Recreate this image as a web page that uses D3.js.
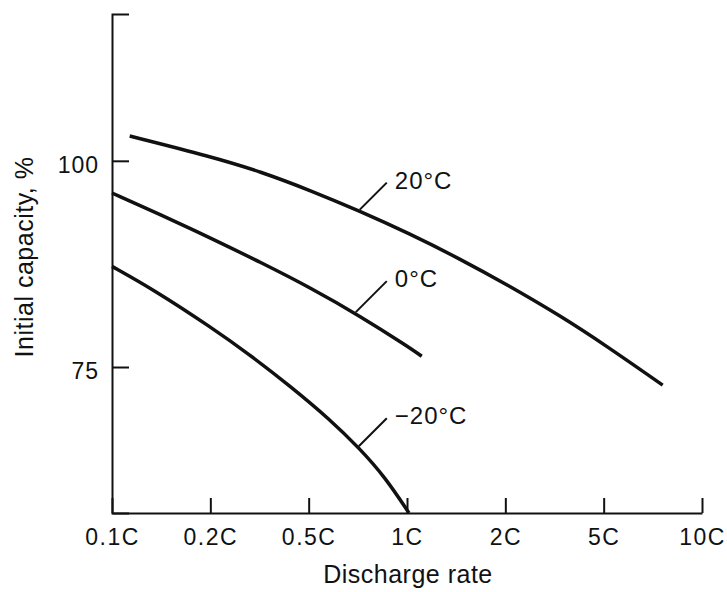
<!DOCTYPE html>
<html>
<head>
<meta charset="utf-8">
<script src="https://cdn.jsdelivr.net/npm/d3@7"></script>
<style>
  body { margin: 0; background: #fff; }
  svg text { font-family: "Liberation Sans", Arial, Helvetica, sans-serif; fill: #111; }
</style>
</head>
<body>
<div id="chart"></div>
<script>
// Capacity vs discharge rate at three temperatures.
// Rate axis is evenly spaced by category: 0 = 0.1C, 1 = 0.2C ... 6 = 10C.
const rateLabels = ["0.1C", "0.2C", "0.5C", "1C", "2C", "5C", "10C"];
const capTicks = [75, 100];
const temps = ["20°C", "0°C", "−20°C"];

const rate20 = [0.18, 1.01, 1.51, 2.02, 2.52, 3.02, 3.54, 4.03, 4.56, 5.01, 5.60];
const cap20  = [103.0, 100.5, 98.7, 96.4, 93.9, 91.2, 88.1, 84.9, 81.2, 77.7, 72.8];

const rate0 = [0, 0.49, 1.01, 1.51, 2.02, 2.52, 3.02, 3.15];
const cap0  = [96.1, 93.5, 90.6, 87.7, 84.6, 81.2, 77.4, 76.3];

const rateM20 = [0, 0.42, 1.01, 1.40, 1.81, 2.22, 2.52, 2.78, 3.02];
const capM20  = [87.2, 84.4, 79.8, 76.5, 72.7, 68.6, 65.1, 61.6, 57.3];

const W = 727, H = 592;
const margin = { top: 14, right: 25, bottom: 79, left: 112 };
const labelAt = 2.52; // where the label leaders touch the curves

const svg = d3.select("#chart").append("svg")
  .attr("width", W).attr("height", H)
  .attr("viewBox", `0 0 ${W} ${H}`);

const x = d3.scaleLinear().domain([0, 6]).range([margin.left, 702]);
const y = d3.scaleLinear().domain([57.3, 117.8]).range([H - margin.bottom, margin.top]);

// axes
const gX = svg.append("g")
  .attr("transform", `translate(0,${H - margin.bottom})`)
  .call(d3.axisBottom(x).tickValues(d3.range(rateLabels.length))
    .tickFormat(i => rateLabels[i]).tickSizeInner(-15).tickSizeOuter(0));
gX.selectAll("text").attr("y", 16).attr("dy", "0.71em").attr("letter-spacing", 1.5);

const gY = svg.append("g")
  .attr("transform", `translate(${margin.left},0)`)
  .call(d3.axisLeft(y).tickValues(capTicks)
    .tickSizeInner(-17).tickSizeOuter(-17).tickPadding(13));
gY.selectAll("text").attr("dy", "0.5em").attr("letter-spacing", 1);

svg.selectAll(".tick text")
  .style("font-size", "23px")
  .style("font-family", '"Liberation Sans", Arial, sans-serif')
  .attr("fill", "#111");
svg.selectAll(".domain, .tick line").attr("stroke", "#111").attr("stroke-width", 2);

// axis titles
svg.append("text")
  .attr("x", 408).attr("y", 583).attr("text-anchor", "middle")
  .style("font-size", "25px").attr("letter-spacing", 0.5)
  .text("Discharge rate");
svg.append("text")
  .attr("transform", "translate(33,257) rotate(-90)")
  .attr("text-anchor", "middle")
  .style("font-size", "25px").attr("letter-spacing", 0.5)
  .text("Initial capacity, %");

// curves (lead = leader length in px)
const curves = [
  { name: temps[0], xs: rate20, ys: cap20, lead: 27 },
  { name: temps[1], xs: rate0, ys: cap0, lead: 31 },
  { name: temps[2], xs: rateM20, ys: capM20, lead: 28 },
];

const line = d3.line()
  .x(d => x(d[0])).y(d => y(d[1]))
  .curve(d3.curveBasis);

function valueAt(xs, ys, t) {
  const i = Math.max(1, Math.min(xs.length - 1, d3.bisectLeft(xs, t)));
  const f = (t - xs[i - 1]) / (xs[i] - xs[i - 1]);
  return ys[i - 1] + f * (ys[i] - ys[i - 1]);
}

curves.forEach(c => {
  const pts = c.xs.map((v, i) => [v, c.ys[i]]);
  svg.append("path")
    .attr("d", line(pts))
    .attr("fill", "none")
    .attr("stroke", "#111")
    .attr("stroke-width", 3.5);

  // leader + label, leaders all end at the same x
  const ex = x(labelAt) + 27;
  const px = ex - c.lead;
  const py = y(valueAt(c.xs, c.ys, x.invert(px))) - 1.5;
  svg.append("line")
    .attr("x1", px).attr("y1", py)
    .attr("x2", ex).attr("y2", py - c.lead)
    .attr("stroke", "#111").attr("stroke-width", 2);
  svg.append("text")
    .attr("x", ex + 8).attr("y", py - c.lead + 6)
    .style("font-size", "24px").attr("letter-spacing", 1)
    .text(c.name);
});
</script>
</body>
</html>
